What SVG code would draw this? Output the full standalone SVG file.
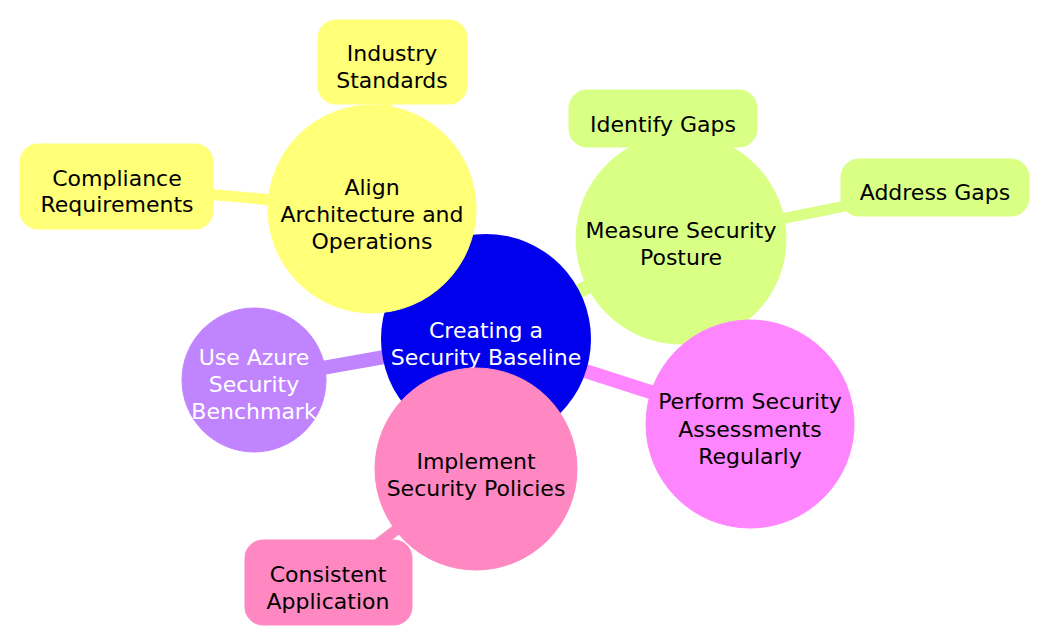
<svg xmlns="http://www.w3.org/2000/svg" width="1049" height="644" viewBox="0 0 1049 644">
<style>
  text { font-family: "DejaVu Sans", "Liberation Sans", sans-serif; font-size: 22px; text-anchor: middle; fill: #000; }
  .light text, text.light { fill: #fff; }
  .e { fill: none; stroke-linecap: round; }
  .d1 { stroke-width: 14; }
  .d2 { stroke-width: 11; }
  .y { fill: #ffff78; stroke: #ffff78; }
  .g { fill: #d9ff84; stroke: #d9ff84; }
  .m { fill: #ff85ff; stroke: #ff85ff; }
  .p { fill: #ff88c2; stroke: #ff88c2; }
  .v { fill: #c184ff; stroke: #c184ff; }
  .root { fill: #0000ed; }
  circle, rect { stroke-width: 1; }
</style>
<rect width="1049" height="644" fill="#ffffff"/>
<g id="connectors">
  <line class="e d1 y" x1="486" y1="339" x2="372" y2="209"/>
  <line class="e d1 g" x1="486" y1="339" x2="681" y2="239"/>
  <line class="e d1 m" x1="486" y1="339" x2="750" y2="424"/>
  <line class="e d1 p" x1="486" y1="339" x2="476" y2="469"/>
  <line class="e d1 v" x1="486" y1="339" x2="254" y2="380"/>
  <line class="e d2 y" x1="372" y1="209" x2="392" y2="62"/>
  <line class="e d2 y" x1="372" y1="209" x2="117" y2="186"/>
  <line class="e d2 g" x1="681" y1="239" x2="663" y2="119"/>
  <line class="e d2 g" x1="681" y1="239" x2="935" y2="188"/>
  <line class="e d2 p" x1="476" y1="469" x2="328" y2="582"/>
</g>
<g id="root">
  <circle class="root" cx="486" cy="339" r="105"/>
  <text class="light" x="486" y="338">Creating a</text>
  <text class="light" x="486" y="365">Security Baseline</text>
</g>
<g id="align">
  <circle class="y" cx="372" cy="209" r="104"/>
  <text x="372" y="195">Align</text>
  <text x="372" y="222">Architecture and</text>
  <text x="372" y="249">Operations</text>
</g>
<g id="measure">
  <circle class="g" cx="681" cy="239" r="105"/>
  <text x="681" y="238">Measure Security</text>
  <text x="681" y="265">Posture</text>
</g>
<g id="perform">
  <circle class="m" cx="750" cy="424" r="104"/>
  <text x="750" y="409">Perform Security</text>
  <text x="750" y="437">Assessments</text>
  <text x="750" y="464">Regularly</text>
</g>
<g id="implement">
  <circle class="p" cx="476" cy="469" r="101"/>
  <text x="476" y="469">Implement</text>
  <text x="476" y="496">Security Policies</text>
</g>
<g id="azure">
  <circle class="v" cx="254" cy="380" r="72"/>
  <text class="light" x="254" y="365">Use Azure</text>
  <text class="light" x="254" y="392">Security</text>
  <text class="light" x="254" y="419">Benchmark</text>
</g>
<g id="industry">
  <rect class="y" x="318" y="20" width="149" height="84" rx="18"/>
  <text x="392" y="61">Industry</text>
  <text x="392" y="88">Standards</text>
</g>
<g id="compliance">
  <rect class="y" x="20" y="144" width="193" height="85" rx="18"/>
  <text x="117" y="186">Compliance</text>
  <text x="117" y="212">Requirements</text>
</g>
<g id="identify">
  <rect class="g" x="569" y="90" width="188" height="57" rx="18"/>
  <text x="663" y="132">Identify Gaps</text>
</g>
<g id="address">
  <rect class="g" x="841" y="159" width="188" height="57" rx="18"/>
  <text x="935" y="200">Address Gaps</text>
</g>
<g id="consistent">
  <rect class="p" x="245" y="540" width="167" height="85" rx="18"/>
  <text x="328" y="582">Consistent</text>
  <text x="328" y="609">Application</text>
</g>
</svg>
